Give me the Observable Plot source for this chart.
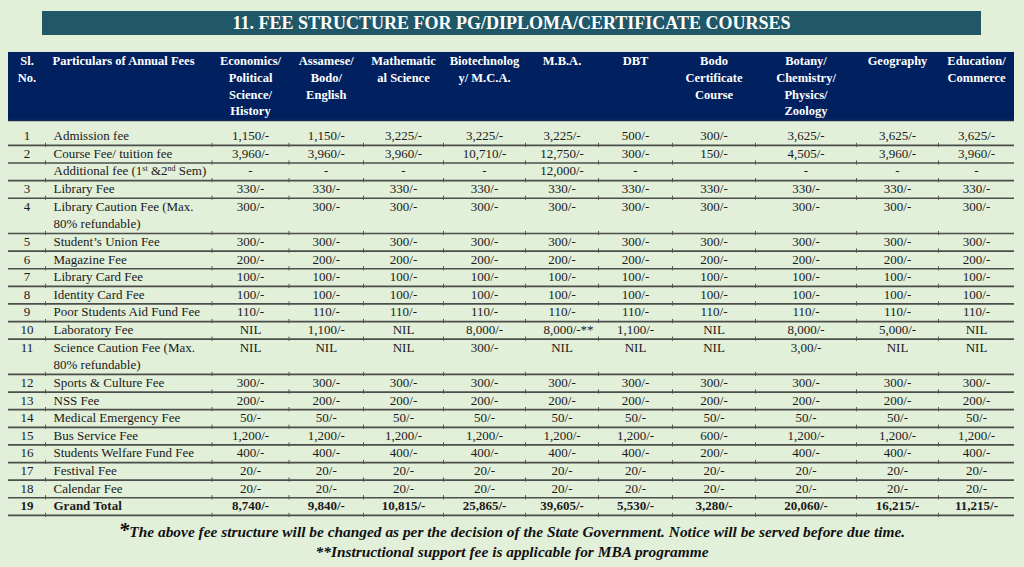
<!DOCTYPE html>
<html>
<head>
<meta charset="utf-8">
<script src="https://cdn.jsdelivr.net/npm/d3@7"></script>
<script src="https://cdn.jsdelivr.net/npm/@observablehq/plot@0.6"></script>
<style>
  html, body { margin: 0; padding: 0; width: 1024px; height: 567px; overflow: hidden; background: #e2efd9; font-family: "Liberation Serif", "Times New Roman", serif; }
  #title { position: absolute; left: 42px; top: 11px; width: 939px; height: 24px; background: #205867; color: #fff; font-weight: bold; font-size: 18px; line-height: 24px; text-align: center; }
  #chart { position: absolute; left: 0; top: 51px; }
  .note { position: absolute; left: 0; width: 1024px; text-align: center; font-weight: bold; font-style: italic; color: #111; line-height: 18px; }
  #n1 { top: 521px; font-size: 15.4px; }
  #n1 .star { font-size: 21px; }
  #n2 { top: 543px; font-size: 15.4px; }
</style>
</head>
<body>
<div id="title">11. FEE STRUCTURE FOR PG/DIPLOMA/CERTIFICATE COURSES</div>
<div id="chart"></div>
<div class="note" id="n1"><span class="star">*</span>The above fee structure will be changed as per the decision of the State Government. Notice will be served before due time.</div>
<div class="note" id="n2">**Instructional support fee is applicable for MBA programme</div>
<script>
// ---------- DATA ----------
const headers = ["Sl.\nNo.", "Particulars of Annual Fees", "Economics/\nPolitical\nScience/\nHistory", "Assamese/\nBodo/\nEnglish", "Mathematic\nal Science", "Biotechnolog\ny/ M.C.A.", "M.B.A.", "DBT", "Bodo\nCertificate\nCourse", "Botany/\nChemistry/\nPhysics/\nZoology", "Geography", "Education/\nCommerce"];
const serialNo = ["1","2","","3","4","5","6","7","8","9","10","11","12","13","14","15","16","17","18","19"];
const particulars = ["Admission fee","Course Fee/ tuition fee","Additional fee (1st &2nd Sem)","Library Fee","Library Caution Fee (Max.\n80% refundable)","Student’s Union Fee","Magazine Fee","Library Card Fee","Identity Card Fee","Poor Students Aid Fund Fee","Laboratory Fee","Science Caution Fee (Max.\n80% refundable)","Sports & Culture Fee","NSS Fee","Medical Emergency Fee","Bus Service Fee","Students Welfare Fund Fee","Festival Fee","Calendar Fee","Grand Total"];
const economics = ["1,150/-","3,960/-","-","330/-","300/-","300/-","200/-","100/-","100/-","110/-","NIL","NIL","300/-","200/-","50/-","1,200/-","400/-","20/-","20/-","8,740/-"];
const assamese  = ["1,150/-","3,960/-","-","330/-","300/-","300/-","200/-","100/-","100/-","110/-","1,100/-","NIL","300/-","200/-","50/-","1,200/-","400/-","20/-","20/-","9,840/-"];
const maths     = ["3,225/-","3,960/-","-","330/-","300/-","300/-","200/-","100/-","100/-","110/-","NIL","NIL","300/-","200/-","50/-","1,200/-","400/-","20/-","20/-","10,815/-"];
const biotech   = ["3,225/-","10,710/-","-","330/-","300/-","300/-","200/-","100/-","100/-","110/-","8,000/-","300/-","300/-","200/-","50/-","1,200/-","400/-","20/-","20/-","25,865/-"];
const mba       = ["3,225/-","12,750/-","12,000/-","330/-","300/-","300/-","200/-","100/-","100/-","110/-","8,000/-**","NIL","300/-","200/-","50/-","1,200/-","400/-","20/-","20/-","39,605/-"];
const dbt       = ["500/-","300/-","-","330/-","300/-","300/-","200/-","100/-","100/-","110/-","1,100/-","NIL","300/-","200/-","50/-","1,200/-","400/-","20/-","20/-","5,530/-"];
const bodo      = ["300/-","150/-","","330/-","300/-","300/-","200/-","100/-","100/-","110/-","NIL","NIL","300/-","200/-","50/-","600/-","200/-","20/-","20/-","3,280/-"];
const botany    = ["3,625/-","4,505/-","-","330/-","300/-","300/-","200/-","100/-","100/-","110/-","8,000/-","3,00/-","300/-","200/-","50/-","1,200/-","400/-","20/-","20/-","20,060/-"];
const geography = ["3,625/-","3,960/-","-","330/-","300/-","300/-","200/-","100/-","100/-","110/-","5,000/-","NIL","300/-","200/-","50/-","1,200/-","400/-","20/-","20/-","16,215/-"];
const education = ["3,625/-","3,960/-","-","330/-","300/-","300/-","200/-","100/-","100/-","110/-","NIL","NIL","300/-","200/-","50/-","1,200/-","400/-","20/-","20/-","11,215/-"];
const courseValues = [economics, assamese, maths, biotech, mba, dbt, bodo, botany, geography, education];

// ---------- LAYOUT ----------
const colWidths = [37, 166.5, 77, 74.5, 80, 82, 73, 74, 83, 101, 82, 76];
const edges = [0]; colWidths.forEach(w => edges.push(edges[edges.length - 1] + w));
const total = edges[edges.length - 1];
const centers = colWidths.map((w, i) => edges[i] + w / 2);
const padLeft = 8;
const headerTop = -4.745, headerBottom = -0.885, headerFirst = -4.234, headerStep = 0.942;
const lineOffset = 0.53;
const fontFamily = "'Liberation Serif', 'Times New Roman', serif";

// build table records
const rowUnit = [];
let u = 0;
particulars.forEach((p, i) => { rowUnit.push(u); u += p.split("\n").length; });
const lastRow = particulars.length - 1;

const headerCells = [];
headers.forEach((h, c) => h.split("\n").forEach((t, l) => headerCells.push({c, t, y: headerFirst + l * headerStep})));

const sers = serialNo.map((s, i) => ({t: s, y: rowUnit[i], bold: i === lastRow}));
const parts = [];
particulars.forEach((p, i) => p.split("\n").forEach((t, l) => parts.push({t, y: rowUnit[i] + l, bold: i === lastRow})));
const vals = [];
courseValues.forEach((arr, k) => arr.forEach((v, i) => vals.push({c: k + 2, t: v, y: rowUnit[i], bold: i === lastRow})));
const plainVals = vals.filter(d => !d.t.endsWith("**"));
const starVals = vals.filter(d => d.t.endsWith("**"));

const rowLines = particulars.map((p, i) => rowUnit[i] + p.split("\n").length - 1 + lineOffset);
const ticks = [];
rowLines.forEach(y => edges.slice(1, -1).forEach(x => ticks.push({x, y})));

// width of value without the trailing ** so the value stays centered
const ctx = document.createElement("canvas").getContext("2d");
ctx.font = "13px 'Liberation Serif'";
const starDx = starVals.length ? -ctx.measureText(starVals[0].t.replace(/\*+$/, "")).width / 2 : 0;

const txt = {fontFamily, fontSize: 13, fill: "#1a1a1a", lineAnchor: "middle"};
const hdr = {fontFamily, fontSize: 12.5, fontWeight: "bold", fill: "#fff", lineAnchor: "middle"};

const chart = Plot.plot({
  width: 1024, height: 466,
  marginLeft: 8, marginRight: 10, marginTop: 0, marginBottom: 0,
  x: {domain: [0, total], axis: null},
  y: {domain: [-4.8, 21.65], range: [0, 466], axis: null},
  style: {background: "transparent", overflow: "visible"},
  marks: [
    Plot.rect([0], {x1: 0, x2: total, y1: headerTop, y2: headerBottom, fill: "#002060"}),
    Plot.ruleY([headerBottom], {x1: 0, x2: total, stroke: "#1a2a4a", strokeWidth: 1.5}),
    Plot.text(headerCells.filter(d => d.c !== 1), {x: d => centers[d.c], y: "y", text: "t", textAnchor: "middle", ...hdr}),
    Plot.text(headerCells.filter(d => d.c === 1), {x: d => edges[1] + padLeft - 1, y: "y", text: "t", textAnchor: "start", ...hdr}),
    Plot.ruleY(rowLines, {x1: 0, x2: total, stroke: "#3c3c3c", strokeWidth: 1.7, strokeOpacity: 0.9}),
    Plot.ruleX(ticks, {x: "x", y1: d => d.y - 0.12, y2: d => d.y + 0.12, stroke: "#555", strokeWidth: 1}),
    Plot.text(sers.filter(d => !d.bold), {x: centers[0], y: "y", text: "t", textAnchor: "middle", ...txt}),
    Plot.text(sers.filter(d => d.bold), {x: centers[0], y: "y", text: "t", textAnchor: "middle", fontWeight: "bold", ...txt}),
    Plot.text(parts.filter(d => !d.bold), {x: edges[1] + padLeft, y: "y", text: "t", textAnchor: "start", ...txt}),
    Plot.text(parts.filter(d => d.bold), {x: edges[1] + padLeft, y: "y", text: "t", textAnchor: "start", fontWeight: "bold", ...txt}),
    Plot.text(plainVals.filter(d => !d.bold), {x: d => centers[d.c], y: "y", text: "t", textAnchor: "middle", ...txt}),
    Plot.text(plainVals.filter(d => d.bold), {x: d => centers[d.c], y: "y", text: "t", textAnchor: "middle", fontWeight: "bold", ...txt}),
    Plot.text(starVals, {x: d => centers[d.c], y: "y", text: "t", textAnchor: "start", dx: starDx, ...txt})
  ]
});
document.getElementById("chart").appendChild(chart);

// superscripts for "1st" and "2nd"
d3.select(chart).selectAll("text").filter(function () { return this.textContent === "Additional fee (1st &2nd Sem)"; }).each(function () {
  const t = d3.select(this);
  t.text(null);
  t.append("tspan").text("Additional fee (1");
  t.append("tspan").attr("dy", -4).attr("font-size", 8).text("st");
  t.append("tspan").attr("dy", 4).text(" &2");
  t.append("tspan").attr("dy", -4).attr("font-size", 8).text("nd");
  t.append("tspan").attr("dy", 4).text(" Sem)");
});
</script>
</body>
</html>
